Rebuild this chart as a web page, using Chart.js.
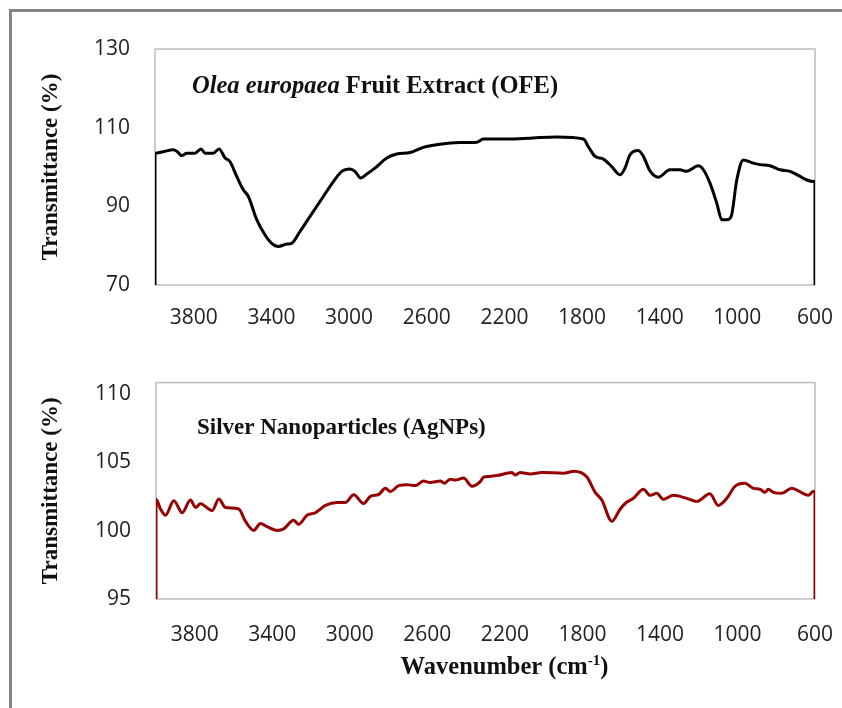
<!DOCTYPE html>
<html>
<head>
<meta charset="utf-8">
<script src="https://cdn.jsdelivr.net/npm/chart.js@4.4.1/dist/chart.umd.min.js"></script>
<style>
  html, body { margin: 0; padding: 0; background: #ffffff; }
  body { width: 842px; height: 708px; position: relative; overflow: hidden; }
  #frame { position: absolute; left: 9px; top: 9px; width: 900px; height: 800px;
           border: 3px solid #858585; box-sizing: border-box; }
  canvas { position: absolute; left: 0; }
  #ofe { top: 0; }
  #agnp { top: 345px; }
</style>
</head>
<body>
<div id="frame"></div>
<canvas id="ofe" width="842" height="345"></canvas>
<canvas id="agnp" width="842" height="363"></canvas>
<script>
// FTIR spectra: wavenumber (cm-1) and transmittance (%)
const wavenumberTicks = [3800, 3400, 3000, 2600, 2200, 1800, 1400, 1000, 600];

const ofeTicks = [70, 90, 110, 130];
const ofeWavenumber = [4000, 4000, 3957, 3906, 3885, 3862, 3837, 3794, 3763, 3742, 3700, 3670, 3639, 3614,
  3579, 3545, 3519, 3476, 3433, 3399, 3365, 3321, 3296, 3253, 3202, 3133, 3081, 3038, 2995, 2970, 2940,
  2909, 2867, 2806, 2755, 2686, 2618, 2532, 2429, 2343, 2309, 2188, 2051, 1930, 1793, 1768, 1733, 1690,
  1647, 1604, 1579, 1553, 1510, 1484, 1450, 1407, 1347, 1295, 1261, 1201, 1175, 1141, 1106, 1080, 1055,
  1032, 1003, 969, 926, 883, 832, 780, 728, 677, 642, 611, 600, 600];
const ofeTransmittance = [70, 103.5, 103.9, 104.4, 103.9, 102.9, 103.5, 103.5, 104.6, 103.5, 103.5, 104.6,
  102.3, 101.4, 97.6, 94.2, 92.5, 86.6, 82.7, 80.6, 79.8, 80.4, 80.6, 83.6, 87.4, 92.5, 96.3, 98.9, 99.5,
  98.9, 97.2, 98.2, 99.7, 102.3, 103.3, 103.7, 105.0, 105.8, 106.2, 106.3, 107.1, 107.1, 107.4, 107.6,
  107.1, 105.2, 102.7, 102.0, 100.1, 98.0, 99.7, 103.1, 104.2, 102.7, 99.0, 97.4, 99.3, 99.3, 98.9, 100.3,
  99.3, 95.9, 90.8, 86.6, 86.6, 87.4, 96.7, 101.8, 101.1, 100.6, 100.3, 99.3, 98.9, 97.6, 96.7, 96.3,
  96.3, 70];

const agTicks = [95, 100, 105, 110];
const agWavenumber = [4000, 4000, 3977, 3951, 3908, 3865, 3822, 3796, 3771, 3710, 3676, 3642, 3573, 3539,
  3496, 3461, 3427, 3375, 3341, 3290, 3264, 3221, 3178, 3126, 3066, 3023, 2980, 2929, 2894, 2851, 2817,
  2791, 2748, 2705, 2662, 2620, 2585, 2533, 2513, 2482, 2456, 2413, 2370, 2327, 2310, 2279, 2241, 2164,
  2147, 2121, 2069, 2009, 1898, 1843, 1777, 1734, 1700, 1648, 1605, 1571, 1537, 1485, 1451, 1416, 1382,
  1331, 1262, 1210, 1142, 1099, 1055, 1013, 962, 918, 884, 858, 841, 815, 772, 720, 686, 635, 609, 600, 600];
const agTransmittance = [95, 102.28, 101.57, 101.12, 102.17, 101.30, 102.23, 101.68, 101.95, 101.45, 102.30,
  101.68, 101.57, 100.68, 100.01, 100.52, 100.28, 100.01, 100.12, 100.75, 100.45, 101.12, 101.30, 101.83,
  102.05, 102.05, 102.61, 101.97, 102.50, 102.63, 103.08, 102.85, 103.28, 103.35, 103.28, 103.61, 103.50,
  103.61, 103.45, 103.75, 103.68, 103.83, 103.23, 103.57, 103.90, 103.95, 104.01, 104.23, 104.05, 104.23,
  104.12, 104.23, 104.19, 104.32, 103.90, 102.79, 102.23, 100.68, 101.57, 102.08, 102.35, 103.01, 102.57,
  102.72, 102.28, 102.57, 102.35, 102.12, 102.68, 101.83, 102.35, 103.23, 103.45, 103.08, 103.01, 102.79,
  103.01, 102.79, 102.72, 103.08, 102.90, 102.57, 102.85, 102.85, 95];

const toPoints = (xs, ys) => xs.map((x, i) => ({ x, y: ys[i] }));

// light grey box around the plotting area
const plotFrame = {
  id: 'plotFrame',
  beforeDatasetsDraw(chart) {
    const { ctx, chartArea: a } = chart;
    ctx.save();
    ctx.strokeStyle = '#bdbdbd';
    ctx.lineWidth = 1.5;
    ctx.strokeRect(a.left, a.top, a.right - a.left, a.bottom - a.top);
    ctx.restore();
  }
};

// sample name written inside the plot, allowing italic runs
const panelLabel = {
  id: 'panelLabel',
  afterDatasetsDraw(chart, args, opts) {
    if (!opts.parts) return;
    const { ctx, chartArea: a } = chart;
    ctx.save();
    ctx.fillStyle = '#111';
    ctx.textBaseline = 'alphabetic';
    let x = a.left + opts.dx;
    const y = a.top + opts.dy;
    for (const p of opts.parts) {
      ctx.font = (p.italic ? 'italic ' : '') + 'bold ' + opts.size + 'px "Liberation Serif", "Times New Roman", serif';
      ctx.fillText(p.text, x, y);
      x += ctx.measureText(p.text).width;
    }
    ctx.restore();
  }
};

// x-axis caption with a superscript exponent
const axisCaption = {
  id: 'axisCaption',
  afterDraw(chart, args, opts) {
    if (!opts.text) return;
    const { ctx, chartArea: a } = chart;
    const big = 'bold ' + opts.size + 'px "Liberation Serif", serif';
    const small = 'bold ' + Math.round(opts.size * 0.62) + 'px "Liberation Serif", serif';
    ctx.save();
    ctx.fillStyle = '#111';
    ctx.textBaseline = 'alphabetic';
    ctx.font = big;
    const w1 = ctx.measureText(opts.text).width;
    const w3 = ctx.measureText(opts.tail).width;
    ctx.font = small;
    const w2 = ctx.measureText(opts.sup).width;
    let x = (a.left + a.right) / 2 + opts.dx - (w1 + w2 + w3) / 2;
    const y = a.bottom + opts.dy;
    ctx.font = big;  ctx.fillText(opts.text, x, y); x += w1;
    ctx.font = small; ctx.fillText(opts.sup, x, y - opts.size * 0.38); x += w2;
    ctx.font = big;  ctx.fillText(opts.tail, x, y);
    ctx.restore();
  }
};

const tickFont = { family: '"Open Sans", "Liberation Sans", sans-serif', size: 21 };

function makeChart(id, cfg) {
  return new Chart(document.getElementById(id), {
    type: 'line',
    data: {
      datasets: [{
        data: cfg.points,
        borderColor: cfg.color,
        borderWidth: 3,
        pointRadius: 0,
        cubicInterpolationMode: 'monotone',
        fill: false
      }]
    },
    options: {
      responsive: false,
      animation: false,
      events: [],
      layout: { padding: cfg.padding },
      plugins: {
        legend: { display: false },
        tooltip: { enabled: false },
        panelLabel: cfg.label,
        axisCaption: cfg.caption || {}
      },
      scales: {
        x: {
          type: 'linear',
          reverse: true,
          min: 600,
          max: 4000,
          afterBuildTicks: s => { s.ticks = wavenumberTicks.map(v => ({ value: v })); },
          // the layout padding already leaves room for the end labels
          afterFit: s => { s.height = cfg.xHeight; s.paddingLeft = 0; s.paddingRight = 0; },
          grid: { display: false, drawTicks: false },
          border: { display: false },
          ticks: { font: tickFont, color: '#222', padding: cfg.xPad, maxRotation: 0, autoSkip: false,
                   callback: v => String(v) }
        },
        y: {
          min: cfg.yMin,
          max: cfg.yMax,
          afterBuildTicks: s => { s.ticks = cfg.yTicks.map(v => ({ value: v })); },
          afterFit: s => { s.width = cfg.yWidth; },
          grid: { display: false, drawTicks: false },
          border: { display: false },
          ticks: { font: tickFont, color: '#222', padding: 25, callback: v => String(v) },
          title: {
            display: true,
            text: 'Transmittance (%)',
            color: '#111',
            font: { family: '"Liberation Serif", "Times New Roman", serif', size: 23, weight: 'bold' },
            padding: { top: 37, bottom: 0 }
          }
        }
      }
    },
    plugins: [plotFrame, panelLabel, axisCaption]
  });
}

makeChart('ofe', {
  points: toPoints(ofeWavenumber, ofeTransmittance),
  color: '#000000',
  yMin: 70, yMax: 130, yTicks: ofeTicks,
  yWidth: 155, xHeight: 60, xPad: 20,
  padding: { top: 49, right: 27, bottom: 0, left: 0 },
  label: { parts: [{ text: 'Olea europaea', italic: true }, { text: ' Fruit Extract (OFE)' }], dx: 37, dy: 44, size: 24.5 }
});

makeChart('agnp', {
  points: toPoints(agWavenumber, agTransmittance),
  color: '#960000',
  yMin: 95, yMax: 110.8, yTicks: agTicks,
  yWidth: 156, xHeight: 60, xPad: 23,
  padding: { top: 17, right: 27, bottom: 49, left: 0 },
  label: { parts: [{ text: 'Silver Nanoparticles (AgNPs)' }], dx: 41, dy: 51, size: 23 },
  caption: { text: 'Wavenumber (cm', sup: '-1', tail: ')', size: 24.5, dx: 19, dy: 75 }
});
</script>
</body>
</html>
